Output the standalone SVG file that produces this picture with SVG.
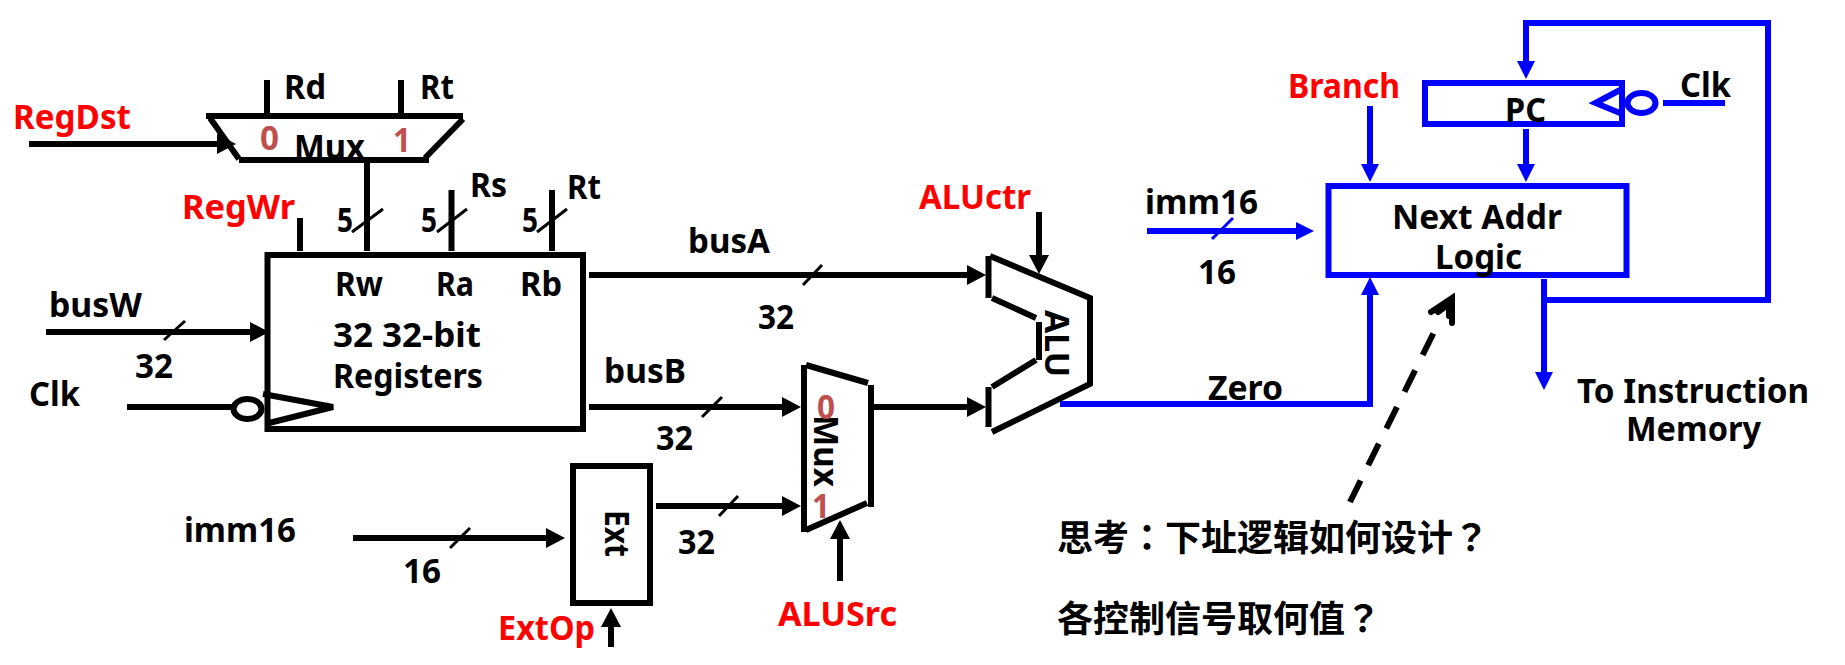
<svg xmlns="http://www.w3.org/2000/svg" width="1845" height="665" viewBox="0 0 1845 665">
<style>
text{font-family:"Noto Sans","Noto Sans CJK SC",sans-serif;font-weight:700;font-size:34px;fill:#000}
.r{fill:#f00}.m{fill:#c0504d;font-size:34px}
.cjk{font-family:"Noto Sans CJK SC",sans-serif;font-size:36px}
.p{font-family:"Noto Sans CJK TC",sans-serif}
.k,.b{fill:none;stroke-width:6}
.k{stroke:#000}.b{stroke:#00f}
.s{stroke-width:3}
</style>
<defs>
<marker id="ak" markerUnits="userSpaceOnUse" markerWidth="20" markerHeight="22" refX="1" refY="11" orient="auto"><path d="M0 1L19 11L0 21Z" fill="#000"/></marker>
<marker id="ab" markerUnits="userSpaceOnUse" markerWidth="20" markerHeight="22" refX="1" refY="11" orient="auto"><path d="M0 2L18 11L0 20Z" fill="#00f"/></marker>
</defs>
<rect width="1845" height="665" fill="#fff"/>

<g id="connectors">
<path class="k" d="M267 80V114M401 80V114"/>
<path class="k" d="M29 144H218" marker-end="url(#ak)"/>
<path class="k" d="M367 160V251M451.500 190V251M552 190V251M300 218V251"/>
<path class="k s" d="M352 232L383 209M437 232L467 209M537 232L567 209"/>
<path class="k" d="M46 332H251" marker-end="url(#ak)"/>
<path class="k s" d="M164 340L185 321"/>
<path class="k" d="M127 407H233"/>
<path class="k" d="M589 275H968" marker-end="url(#ak)"/>
<path class="k s" d="M803 285L822 265"/>
<path class="k" d="M589 407H783" marker-end="url(#ak)"/>
<path class="k s" d="M702 417L722 397"/>
<path class="k" d="M353 538H547" marker-end="url(#ak)"/>
<path class="k s" d="M450 548L470 528"/>
<path class="k" d="M656 506H783" marker-end="url(#ak)"/>
<path class="k s" d="M719 516L738 496"/>
<path class="k" d="M873 407H968" marker-end="url(#ak)"/>
<path class="k" d="M1039 212V256" marker-end="url(#ak)"/>
<path class="k" d="M840 581V538" marker-end="url(#ak)"/>
<path class="k" d="M611 647V626" marker-end="url(#ak)"/>
<path class="b" d="M1060 404H1370V294" marker-end="url(#ab)"/>
<path class="b" d="M1370 106V165" marker-end="url(#ab)"/>
<path class="b" d="M1526 129V165" marker-end="url(#ab)"/>
<path class="b" d="M1147 231H1297" marker-end="url(#ab)"/>
<path class="b s" d="M1212 239L1233 218"/>
<path class="b" d="M1544 279V373" marker-end="url(#ab)"/>
<path class="b" d="M1544 300H1768V23H1526V62" marker-end="url(#ab)"/>
<path class="b" d="M1663 103H1725"/>
<path class="k" stroke-dasharray="24 17" d="M1350 502L1436 328"/>
<path class="k" stroke-linecap="round" d="M1431 312L1452 298L1452 323M1438 312L1449 304L1449 316"/>
</g>

<g id="reg-mux">
<path class="k" d="M206 116H463M210 118L239 159M239 160H429M463 119L425 158"/>
<text class="m" x="260" y="150" textLength="19" lengthAdjust="spacingAndGlyphs">0</text>
<text class="m" x="393" y="152" textLength="18" lengthAdjust="spacingAndGlyphs">1</text>
<text x="294" y="159" textLength="71" lengthAdjust="spacingAndGlyphs">Mux</text>
</g>

<g id="registers">
<rect class="k" x="267.500" y="255" width="315.500" height="174"/>
<path class="k" d="M263 394L333 407L269 423"/>
<ellipse class="k" cx="247.500" cy="409" rx="14" ry="10"/>
<text x="335" y="296" textLength="48" lengthAdjust="spacingAndGlyphs">Rw</text>
<text x="436" y="296" textLength="38" lengthAdjust="spacingAndGlyphs">Ra</text>
<text x="520" y="296" textLength="42" lengthAdjust="spacingAndGlyphs">Rb</text>
<text x="333" y="347" textLength="148" lengthAdjust="spacingAndGlyphs">32 32-bit</text>
<text x="333" y="388" textLength="150" lengthAdjust="spacingAndGlyphs">Registers</text>
</g>

<g id="ext">
<rect class="k" x="573" y="466" width="77" height="137"/>
<text transform="translate(605 510) rotate(90)" textLength="47" lengthAdjust="spacingAndGlyphs">Ext</text>
</g>

<g id="alu-mux">
<path class="k" d="M804 365V532M806 365L868 383M871 385V507M867 503L806 530"/>
<text transform="translate(814 415) rotate(90)" textLength="72" lengthAdjust="spacingAndGlyphs">Mux</text>
<text class="m" x="817" y="419" textLength="18" lengthAdjust="spacingAndGlyphs">0</text>
<text class="m" x="812" y="518" textLength="18" lengthAdjust="spacingAndGlyphs">1</text>
</g>

<g id="alu">
<path class="k" d="M988.500 256V298M990 256L1090 298V384L992 432M988.500 387V427M992 298L1036 318M1039 322V360M1036 360L992 387"/>
<text transform="translate(1045 310) rotate(90)" textLength="67" lengthAdjust="spacingAndGlyphs">ALU</text>
</g>

<g id="pc">
<rect class="b" x="1425" y="83" width="197" height="41"/>
<path class="b" d="M1620 90L1595.500 103L1620 113"/>
<ellipse class="b" cx="1641.500" cy="103" rx="14" ry="10"/>
<text x="1505" y="122" textLength="41" lengthAdjust="spacingAndGlyphs">PC</text>
</g>

<g id="next-addr">
<rect class="b" x="1328.500" y="186" width="298" height="89"/>
<text x="1392" y="229" textLength="170" lengthAdjust="spacingAndGlyphs">Next Addr</text>
<text x="1435" y="269" textLength="87" lengthAdjust="spacingAndGlyphs">Logic</text>
</g>

<g id="labels">
<text class="r" x="13" y="129" textLength="118" lengthAdjust="spacingAndGlyphs">RegDst</text>
<text class="r" x="182" y="219" textLength="113" lengthAdjust="spacingAndGlyphs">RegWr</text>
<text class="r" x="919" y="209" textLength="112" lengthAdjust="spacingAndGlyphs">ALUctr</text>
<text class="r" x="778" y="626" textLength="119" lengthAdjust="spacingAndGlyphs">ALUSrc</text>
<text class="r" x="498" y="640" textLength="97" lengthAdjust="spacingAndGlyphs">ExtOp</text>
<text class="r" x="1288" y="98" textLength="112" lengthAdjust="spacingAndGlyphs">Branch</text>
<text x="284" y="99" textLength="42" lengthAdjust="spacingAndGlyphs">Rd</text>
<text x="420" y="99" textLength="34" lengthAdjust="spacingAndGlyphs">Rt</text>
<text x="470" y="197" textLength="37" lengthAdjust="spacingAndGlyphs">Rs</text>
<text x="567" y="199" textLength="34" lengthAdjust="spacingAndGlyphs">Rt</text>
<text x="337" y="232" textLength="16" lengthAdjust="spacingAndGlyphs">5</text>
<text x="421" y="232" textLength="16" lengthAdjust="spacingAndGlyphs">5</text>
<text x="522" y="232" textLength="16" lengthAdjust="spacingAndGlyphs">5</text>
<text x="49" y="317" textLength="93" lengthAdjust="spacingAndGlyphs">busW</text>
<text x="135" y="378" textLength="38" lengthAdjust="spacingAndGlyphs">32</text>
<text x="29" y="406" textLength="51" lengthAdjust="spacingAndGlyphs">Clk</text>
<text x="184" y="542" textLength="112" lengthAdjust="spacingAndGlyphs">imm16</text>
<text x="403" y="583" textLength="38" lengthAdjust="spacingAndGlyphs">16</text>
<text x="688" y="253" textLength="82" lengthAdjust="spacingAndGlyphs">busA</text>
<text x="758" y="329" textLength="36" lengthAdjust="spacingAndGlyphs">32</text>
<text x="604" y="383" textLength="82" lengthAdjust="spacingAndGlyphs">busB</text>
<text x="656" y="450" textLength="37" lengthAdjust="spacingAndGlyphs">32</text>
<text x="678" y="554" textLength="37" lengthAdjust="spacingAndGlyphs">32</text>
<text x="1208" y="400" textLength="75" lengthAdjust="spacingAndGlyphs">Zero</text>
<text x="1680" y="97" textLength="51" lengthAdjust="spacingAndGlyphs">Clk</text>
<text x="1145" y="214" textLength="113" lengthAdjust="spacingAndGlyphs">imm16</text>
<text x="1198" y="284" textLength="38" lengthAdjust="spacingAndGlyphs">16</text>
<text x="1577" y="403" textLength="232" lengthAdjust="spacingAndGlyphs">To Instruction</text>
<text x="1626" y="441" textLength="135" lengthAdjust="spacingAndGlyphs">Memory</text>
<text class="cjk" x="1057" y="551">思考<tspan class="p">：</tspan>下址逻辑如何设计<tspan class="p">？</tspan></text>
<text class="cjk" x="1057" y="632">各控制信号取何值<tspan class="p">？</tspan></text>
</g>
</svg>
